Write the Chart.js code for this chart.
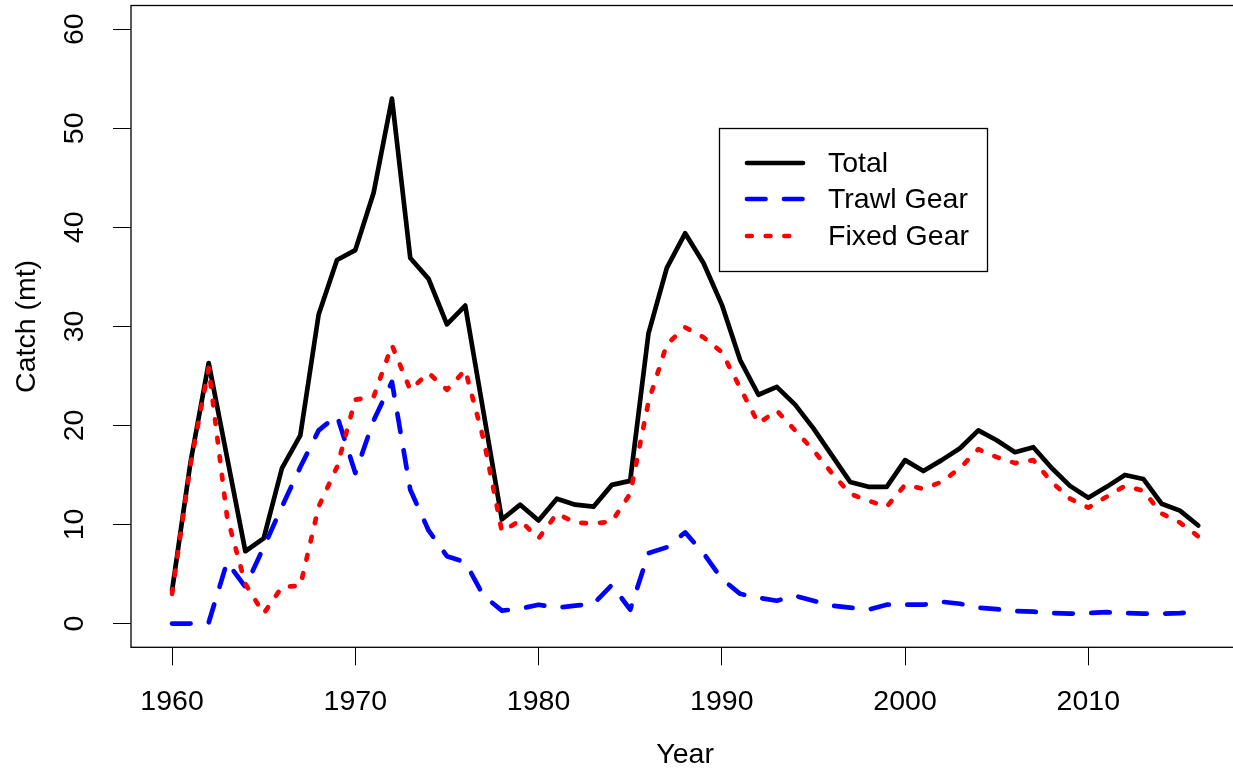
<!DOCTYPE html>
<html>
<head>
<meta charset="utf-8">
<script src="https://cdn.jsdelivr.net/npm/chart.js@4.4.0/dist/chart.umd.min.js"></script>
<style>
    body { margin: 0; background: #fff; }
    #wrap { width: 1233px; height: 774px; overflow: hidden; }
</style>
</head>
<body>
<div id="wrap">
    <canvas id="myChart" width="1245" height="774"></canvas>
</div>
<script>
const years = []
for (let y = 1960; y <= 2016; y++) years.push(y)

const xTicks = [1960, 1970, 1980, 1990, 2000, 2010]
const yTicks = [0, 10, 20, 30, 40, 50, 60]

const total = [
    3.3, 16.2, 26.3, 16.8, 7.3, 8.6, 15.7, 19.0, 31.2, 36.7,
    37.7, 43.5, 53.0, 36.9, 34.8, 30.2, 32.1, 21.3, 10.5, 12.0,
    10.4, 12.6, 12.0, 11.8, 14.0, 14.4, 29.3, 35.9, 39.4, 36.4,
    32.2, 26.6, 23.1, 23.9, 22.1, 19.7, 17.0, 14.3, 13.8, 13.8,
    16.5, 15.4, 16.5, 17.7, 19.5, 18.5, 17.3, 17.8, 15.7, 13.9,
    12.7, 13.8, 15.0, 14.6, 12.1, 11.4, 9.9
]
const trawl = [
    0, 0, 0.1, 6.2, 3.7, 7.7, 11.8, 15.8, 19.5, 21.0,
    15.2, 20.5, 24.4, 13.5, 9.4, 6.8, 6.2, 2.8, 1.3, 1.5,
    1.9, 1.6, 1.8, 2.0, 3.9, 1.4, 7.1, 7.7, 9.2, 7.1,
    4.5, 3.0, 2.6, 2.3, 2.8, 2.3, 1.8, 1.6, 1.4, 1.9,
    1.9, 1.9, 2.2, 2.0, 1.6, 1.45, 1.25, 1.2, 1.05, 1.0,
    1.05, 1.15, 1.05, 1.0, 1.0, 1.05, 1.15
]
const fixed = [
    3.0, 16.0, 25.8, 10.8, 4.0, 1.0, 3.7, 3.8, 11.8, 15.8,
    22.6, 22.9, 28.1, 23.6, 25.3, 23.6, 25.6, 18.6, 9.3, 10.4,
    8.6, 11.1, 10.2, 10.1, 10.3, 13.1, 22.4, 28.2, 29.9, 28.9,
    27.4, 23.8, 20.2, 21.5, 19.5, 17.5, 15.2, 13.1, 12.4, 11.8,
    14.0, 13.6, 14.3, 15.7, 17.6, 16.8, 16.2, 16.5, 14.3, 12.6,
    11.7, 12.8, 13.9, 13.4, 11.1, 10.2, 8.8
]

const seriesNames = ['Total', 'Trawl Gear', 'Fixed Gear']

const FONT = 'Liberation Sans, Arial, sans-serif'
const LW = 4.7

const toPoints = arr => arr.map((v, i) => ({ x: years[i], y: v }))

// no extra label padding, the plot box is fixed
const fixPad = s => {
    s.paddingTop = 0
    s.paddingBottom = 0
    s.paddingLeft = 0
    s.paddingRight = 0
}

// box round the plot + R style legend
const boxAndLegend = {
    id: 'boxAndLegend',
    afterDraw(chart) {
        const { ctx, chartArea } = chart
        ctx.save()
        ctx.strokeStyle = '#000'
        ctx.lineWidth = 1.3
        ctx.setLineDash([])
        ctx.strokeRect(chartArea.left, chartArea.top, chartArea.right - chartArea.left, chartArea.bottom - chartArea.top)

        ctx.strokeRect(719.5, 128.5, 268, 143)
        const rows = [163, 199, 236]
        chart.data.datasets.forEach((ds, i) => {
            ctx.beginPath()
            ctx.strokeStyle = ds.borderColor
            ctx.lineWidth = ds.borderWidth
            ctx.lineCap = 'round'
            ctx.setLineDash(ds.borderDash || [])
            ctx.moveTo(747, rows[i])
            ctx.lineTo(803, rows[i])
            ctx.stroke()
            ctx.setLineDash([])
            ctx.fillStyle = '#000'
            ctx.font = '28.5px ' + FONT
            ctx.textBaseline = 'middle'
            ctx.textAlign = 'left'
            ctx.fillText(ds.label, 828, rows[i] + 1)
        })
        ctx.restore()
    }
}

const el = document.getElementById('myChart')

const data = {
    datasets: [{
        label: seriesNames[0],
        data: toPoints(total),
        borderColor: '#000000',
        borderWidth: LW,
        order: 3
    }, {
        label: seriesNames[1],
        data: toPoints(trawl),
        borderColor: '#0000ff',
        borderWidth: LW,
        borderDash: [18.5, 18.5],
        order: 2
    }, {
        label: seriesNames[2],
        data: toPoints(fixed),
        borderColor: '#ff0000',
        borderWidth: LW,
        borderDash: [4.7, 14],
        order: 1
    }]
}

const config = {
    type: 'line',
    data: data,
    plugins: [boxAndLegend],
    options: {
        responsive: false,
        animation: false,
        layout: { padding: { top: 5.5, right: 5.7, left: 0, bottom: 0 } },
        elements: {
            point: { radius: 0 },
            line: { tension: 0, borderCapStyle: 'round', borderJoinStyle: 'round', fill: false }
        },
        plugins: {
            legend: { display: false },
            tooltip: { enabled: false }
        },
        scales: {
            x: {
                type: 'linear',
                min: 1957.76,
                max: 2018.24,
                afterFit: s => { s.height = 126.7; fixPad(s) },
                afterBuildTicks: s => { s.ticks = xTicks.map(v => ({ value: v })) },
                grid: { drawOnChartArea: false, tickLength: 18, color: '#000', lineWidth: 1 },
                border: { display: false },
                ticks: {
                    color: '#000',
                    font: { family: FONT, size: 28.5 },
                    padding: 19.5,
                    maxRotation: 0,
                    autoSkip: false,
                    callback: v => String(v)
                },
                title: {
                    display: true,
                    text: 'Year',
                    color: '#000',
                    font: { family: FONT, size: 28.5 },
                    padding: { top: 0, bottom: 2 }
                }
            },
            y: {
                min: -2.4,
                max: 62.4,
                afterFit: s => { s.width = 131; fixPad(s) },
                afterBuildTicks: s => { s.ticks = yTicks.map(v => ({ value: v })) },
                grid: { drawOnChartArea: false, tickLength: 18, color: '#000', lineWidth: 1 },
                border: { display: false },
                ticks: {
                    color: '#000',
                    font: { family: FONT, size: 28.5 },
                    padding: 22,
                    minRotation: 90,
                    maxRotation: 90,
                    crossAlign: 'center',
                    autoSkip: false,
                    callback: v => String(v)
                },
                title: {
                    display: true,
                    text: 'Catch (mt)',
                    color: '#000',
                    font: { family: FONT, size: 28.5 },
                    padding: { top: 10, bottom: 0 }
                }
            }
        }
    }
}

const myChart = new Chart(el, config)
</script>
</body>
</html>
